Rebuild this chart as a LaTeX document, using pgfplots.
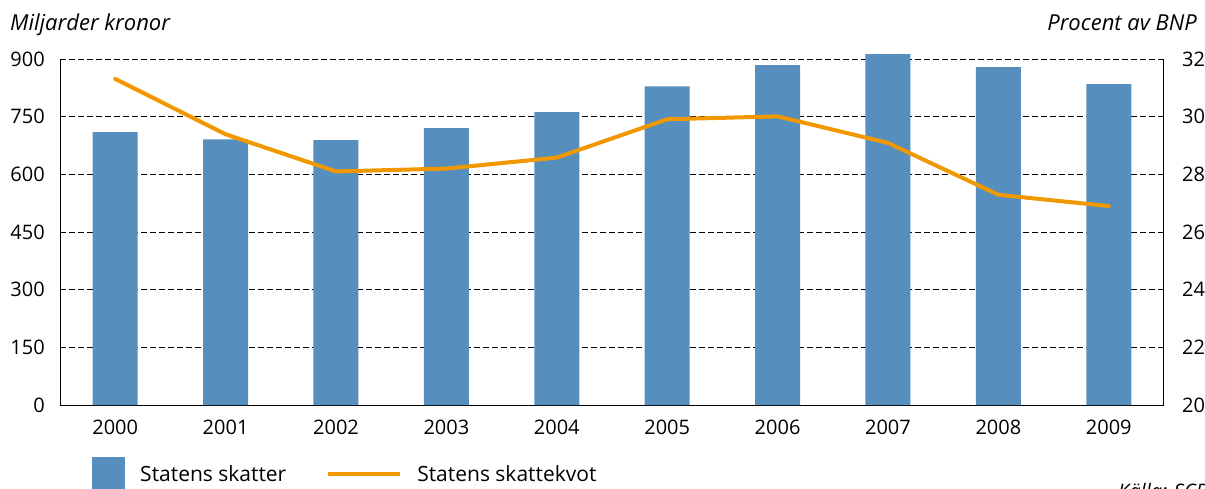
\documentclass[border=0pt]{standalone}
\usepackage{pgfplots}
\pgfplotsset{compat=1.18}
\usepackage{fontspec}
\setmainfont{Open Sans}
\definecolor{barblue}{RGB}{86,142,190}
\definecolor{lineor}{RGB}{241,152,0}

\pgfplotsset{
  common/.style={
    at={(0pt,0pt)}, anchor=south west,
    scale only axis, width=1104pt, height=346pt,
    xmin=-0.5, xmax=9.5,
    major tick length=0pt,
    tick label style={font=\fontsize{20}{24}\selectfont, inner sep=0pt},
    /pgf/number format/assume math mode=true,
    /pgf/number format/1000 sep={},
    axis line style={black, line width=1pt, -},
  }
}

\begin{document}
\begin{tikzpicture}
\useasboundingbox (-60pt,-83pt) rectangle (1145pt,405pt);
\begin{axis}[
  common,
  clip=false,
  ymin=0, ymax=900,
  axis x line*=bottom, axis y line*=left,
  xtick={0,...,9},
  xticklabels={2000,2001,2002,2003,2004,2005,2006,2007,2008,2009},
  ytick={0,150,...,900},
  ymajorgrids,
  grid style={black, line width=0.9pt, dash pattern=on 5.5pt off 3.5pt},
  xticklabel style={anchor=north, yshift=-15pt},
  yticklabel style={anchor=east, xshift=-15pt},
  ybar, bar width=45pt,
  legend columns=2,
  legend style={at={(0.029,-0.1994)}, anchor=west, draw=none, fill=none,
    inner sep=0pt, font=\fontsize{21}{25}\selectfont,
    nodes={inner sep=0pt},
    /tikz/every odd column/.append style={column sep=15pt},
    /tikz/every even column/.append style={column sep=40pt}},
]
\addplot[fill=barblue, draw=none,
  legend image code/.code={\fill[barblue] (0pt,-16.5pt) rectangle (33pt,16.5pt);}]
  coordinates {(0,710) (1,691) (2,689) (3,720) (4,762) (5,829) (6,884) (7,913) (8,879) (9,835)};
\addlegendentry{Statens skatter}
\addlegendimage{legend image code/.code={\draw[lineor, line width=4pt] (0pt,0pt) -- (72pt,0pt);}}
\addlegendentry{Statens skattekvot}
\end{axis}
\begin{axis}[
  common,
  ymin=20, ymax=32,
  axis x line=none, axis y line*=right,
  ytick={20,22,...,32},
  yticklabel style={anchor=west, xshift=18pt},
]
\addplot[lineor, line width=4pt, line join=round, line cap=round]
  coordinates {(0,31.31) (1,29.39) (2,28.10) (3,28.20) (4,28.58) (5,29.91) (6,30.01) (7,29.09) (8,27.29) (9,26.90)};
\end{axis}
\node[anchor=base west, inner sep=0pt, font=\fontsize{22}{26}\selectfont\itshape] at (-50pt,374pt) {Miljarder kronor};
\node[anchor=base east, inner sep=0pt, font=\fontsize{22}{26}\selectfont\itshape] at (1137pt,374pt) {Procent av BNP};
\node[anchor=base west, inner sep=0pt, font=\fontsize{20}{24}\selectfont\itshape] at (1058pt,-93pt) {Källa: SCB};
\end{tikzpicture}
\end{document}
